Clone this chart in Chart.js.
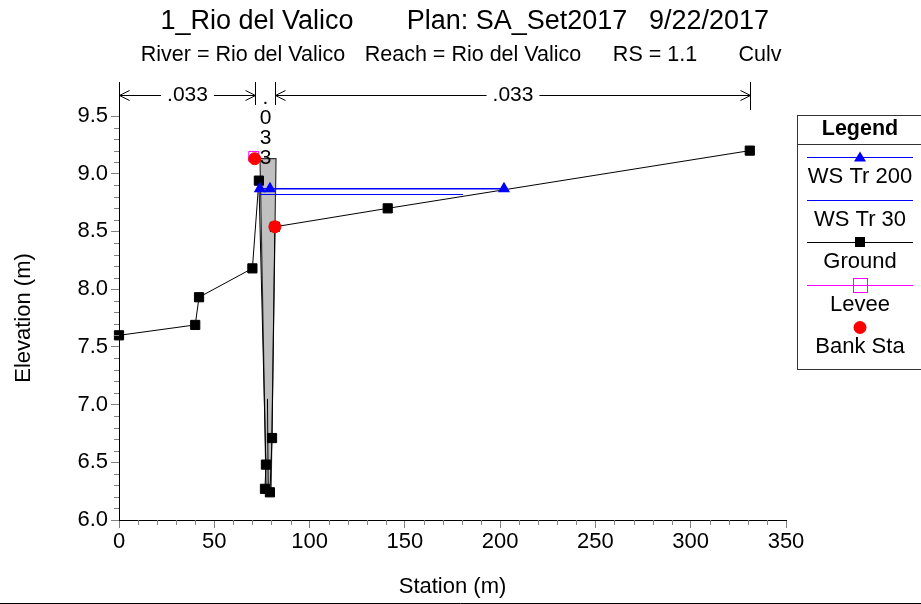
<!DOCTYPE html>
<html>
<head>
<meta charset="utf-8">
<script src="https://cdn.jsdelivr.net/npm/chart.js@4.4.0/dist/chart.umd.min.js"></script>
<style>
  html, body { margin: 0; padding: 0; background: #fff; overflow: hidden; }
  canvas { display: block; }
</style>
</head>
<body>
<canvas id="chart" width="921" height="604"></canvas>
<script>
const FONT = '"Liberation Sans", Arial, sans-serif'

// ground profile (station m, elevation m)
const groundSta  = [0, 40, 42, 70, 73.4, 77.1, 76.6, 79.2, 80.3, 81.8, 141, 331]
const groundElev = [7.60, 7.69, 7.93, 8.18, 8.94, 6.48, 6.27, 6.24, 6.71, 8.54, 8.70, 9.20]

// water surfaces
const ws200Sta  = [73.9, 79.2, 202]
const ws200Elev = [8.87, 8.87, 8.87]
const ws30Sta   = [73.9, 180.5]
const ws30Elev  = [8.82, 8.82]

// levee and bank stations
const leveeSta  = [70.7]
const leveeElev = [9.15]
const bankSta   = [71.2, 81.8]
const bankElev  = [9.13, 8.54]

// culvert deck outline
const deckSta  = [74.0, 82.4, 79.8, 77.2, 74.0]
const deckElev = [9.13, 9.13, 6.25, 6.25, 9.13]
const culvLineSta  = [77.9, 78.3]
const culvLineElev = [7.05, 6.26]

// manning n breaks
const nBreaks = [0, 71.2, 81.8, 331]
const nValues = ['.033', '.033', '.033']

const titleParts = ['1_Rio del Valico', 'Plan: SA_Set2017', '9/22/2017']
const subtitleParts = ['River = Rio del Valico', 'Reach = Rio del Valico', 'RS = 1.1', 'Culv']

const xTicks = [0, 50, 100, 150, 200, 250, 300, 350]
const yTicks = [6.0, 6.5, 7.0, 7.5, 8.0, 8.5, 9.0, 9.5]

const pts = (xs, ys) => xs.map((x, i) => ({x: x, y: ys[i]}))

const line = (ctx, x1, y1, x2, y2) => {
  ctx.beginPath()
  ctx.moveTo(x1, y1)
  ctx.lineTo(x2, y2)
  ctx.stroke()
}

const decor = {
  id: 'decor',
  afterDraw(chart) {
    const ctx = chart.ctx
    const xs = chart.scales.x
    const ys = chart.scales.y
    const area = chart.chartArea
    ctx.save()

    // titles
    ctx.fillStyle = '#000'
    ctx.textBaseline = 'middle'
    ctx.textAlign = 'center'
    ctx.font = '27px ' + FONT
    const tX = [257, 517, 709]
    titleParts.forEach((t, i) => ctx.fillText(t, tX[i], 22))
    ctx.font = '21.5px ' + FONT
    const sX = [243, 473, 655, 760]
    subtitleParts.forEach((t, i) => ctx.fillText(t, sX[i], 55))

    // minor ticks
    ctx.strokeStyle = '#808080'
    ctx.lineWidth = 1
    for (let i = 60; i <= 95; i++) {
      if (i % 5 === 0) continue
      const y = Math.round(ys.getPixelForValue(i / 10)) + 0.5
      line(ctx, area.left - 5, y, area.left, y)
    }
    for (let i = 0; i <= 350; i += 10) {
      if (i % 50 === 0) continue
      const x = Math.round(xs.getPixelForValue(i)) + 0.5
      line(ctx, x, area.bottom, x, area.bottom + 5)
    }

    // manning n brackets
    ctx.strokeStyle = '#000'
    const yA = 95.5
    const bx = nBreaks.map(s => Math.round(xs.getPixelForValue(s)) + 0.5)
    bx.forEach((x, i) => {
      const bottom = i === 0 ? area.top : (i === bx.length - 1 ? 110 : 105)
      line(ctx, x, 82, x, bottom)
    })
    ctx.font = '21px ' + FONT
    ctx.textAlign = 'center'
    for (let i = 0; i < nValues.length; i++) {
      const x1 = bx[i], x2 = bx[i + 1]
      const cx = (x1 + x2) / 2
      const tw = ctx.measureText(nValues[i]).width
      if (x2 - x1 > tw + 30) {
        ctx.fillText(nValues[i], cx, yA)
        line(ctx, x1, yA, cx - tw / 2 - 6, yA)
        line(ctx, cx + tw / 2 + 6, yA, x2, yA)
        ctx.beginPath()
        ctx.moveTo(x1 + 10, yA - 5); ctx.lineTo(x1, yA); ctx.lineTo(x1 + 10, yA + 5)
        ctx.moveTo(x2 - 10, yA - 5); ctx.lineTo(x2, yA); ctx.lineTo(x2 - 10, yA + 5)
        ctx.stroke()
      } else {
        nValues[i].split('').forEach((c, k) => ctx.fillText(c, cx, 98 + k * 20))
      }
    }

    // legend box
    const lx = 797, lr = 930, lt = 115, lb = 369
    const lc = 860
    ctx.lineWidth = 1
    ctx.strokeStyle = '#333'
    ctx.strokeRect(lx + 0.5, lt + 0.5, lr - lx, lb - lt)
    line(ctx, lx, 144.5, lr, 144.5)
    ctx.textAlign = 'center'
    ctx.font = 'bold 21.5px ' + FONT
    ctx.fillStyle = '#000'
    ctx.fillText('Legend', lc, 129)
    ctx.font = '22px ' + FONT
    const items = chart.data.datasets.filter(d => d.legendOrder !== undefined)
      .sort((a, b) => a.legendOrder - b.legendOrder)
    items.forEach((d, k) => {
      const y = Math.round(157 + k * 42.6) + 0.5
      if (d.legendColor) {
        ctx.strokeStyle = d.legendColor
        ctx.lineWidth = 1.2
        line(ctx, 807, y, 913, y)
        ctx.lineWidth = 1
      }
      const m = d.legendMarker
      if (m === 'triangle') {
        ctx.fillStyle = '#0000ff'
        ctx.beginPath()
        ctx.moveTo(lc, y - 6); ctx.lineTo(lc + 6, y + 4); ctx.lineTo(lc - 6, y + 4)
        ctx.closePath(); ctx.fill()
      } else if (m === 'square') {
        ctx.fillStyle = '#000'
        ctx.fillRect(lc - 5, y - 5.5, 10, 10)
      } else if (m === 'openSquare') {
        ctx.strokeStyle = '#ff00ff'
        ctx.strokeRect(lc - 6.5, y - 7, 14, 14)
      } else if (m === 'circle') {
        ctx.fillStyle = '#ff0000'
        ctx.beginPath(); ctx.arc(lc, y, 6.5, 0, Math.PI * 2); ctx.fill()
      }
      ctx.fillStyle = '#000'
      ctx.fillText(d.label, lc, y + 19.5)
    })

    // bottom border
    ctx.strokeStyle = '#000'
    line(ctx, 0, 603.5, 921, 603.5)
    ctx.restore()
  }
}

new Chart('chart', {
  type: 'scatter',
  data: {
    datasets: [
      {
        label: 'Bank Sta', legendOrder: 4, legendMarker: 'circle', legendColor: null,
        data: pts(bankSta, bankElev), clip: false,
        showLine: false, pointStyle: 'circle', pointRadius: 6,
        pointBackgroundColor: '#ff0000', pointBorderColor: '#ff0000', borderColor: '#ff0000'
      },
      {
        label: 'Levee', legendOrder: 3, legendMarker: 'openSquare', legendColor: '#ff00ff',
        data: pts(leveeSta, leveeElev), clip: false,
        showLine: false, pointStyle: 'rect', pointRadius: 7, pointBorderWidth: 1,
        pointBackgroundColor: 'rgba(0,0,0,0)', pointBorderColor: '#ff00ff', borderColor: '#ff00ff'
      },
      {
        label: 'WS Tr 200', legendOrder: 0, legendMarker: 'triangle', legendColor: '#0000ff',
        data: pts(ws200Sta, ws200Elev), clip: false,
        showLine: true, borderColor: '#0000ff', borderWidth: 1.5,
        pointStyle: 'triangle', pointRadius: 5.5,
        pointBackgroundColor: '#0000ff', pointBorderColor: '#0000ff'
      },
      {
        label: 'WS Tr 30', legendOrder: 1, legendMarker: null, legendColor: '#0000ff',
        data: pts(ws30Sta, ws30Elev), clip: false,
        showLine: true, borderColor: '#0000ff', borderWidth: 1, pointRadius: 0
      },
      {
        label: 'Ground', legendOrder: 2, legendMarker: 'square', legendColor: '#000000',
        data: pts(groundSta, groundElev), clip: false,
        showLine: true, borderColor: '#000', borderWidth: 1,
        pointStyle: 'rect', pointRadius: 6.5,
        pointBackgroundColor: '#000', pointBorderColor: '#000'
      },
      {
        label: '',
        data: pts(culvLineSta, culvLineElev), clip: false,
        showLine: true, borderColor: '#000', borderWidth: 1, pointRadius: 0
      },
      {
        label: '',
        data: pts(deckSta, deckElev), clip: false,
        showLine: true, fill: 'shape', backgroundColor: '#c0c0c0',
        borderColor: '#333', borderWidth: 1.2, pointRadius: 0
      }
    ]
  },
  options: {
    responsive: false,
    animation: false,
    events: [],
    layout: { padding: { top: 116, right: 135, bottom: 0, left: 0 } },
    plugins: {
      legend: { display: false },
      tooltip: { enabled: false }
    },
    scales: {
      x: {
        type: 'linear', min: 0, max: 350,
        afterFit: s => { s.height = 84 },
        afterBuildTicks: s => { s.ticks = xTicks.map(v => ({value: v})) },
        ticks: { color: '#000', font: { family: FONT, size: 22 }, padding: 1, maxRotation: 0, autoSkip: false },
        grid: { drawOnChartArea: false, tickLength: 8, color: '#808080' },
        border: { color: '#000' },
        title: { display: true, text: 'Station (m)', color: '#000', font: { family: FONT, size: 22 }, padding: { top: 7 } }
      },
      y: {
        type: 'linear', min: 6, max: 9.5,
        afterFit: s => { s.width = 119 },
        afterBuildTicks: s => { s.ticks = yTicks.map(v => ({value: v})) },
        ticks: { color: '#000', font: { family: FONT, size: 22 }, padding: 3, autoSkip: false, callback: v => v.toFixed(1) },
        grid: { drawOnChartArea: false, tickLength: 8, color: '#808080' },
        border: { color: '#000' },
        title: { display: true, text: 'Elevation (m)', color: '#000', font: { family: FONT, size: 22 }, padding: { top: 11 } }
      }
    }
  },
  plugins: [decor]
})
</script>
</body>
</html>
